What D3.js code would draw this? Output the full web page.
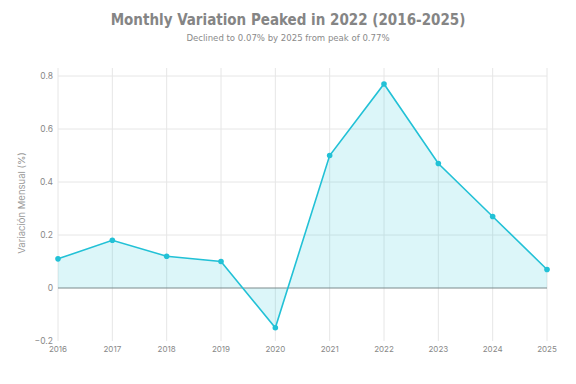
<!DOCTYPE html>
<html>
<head>
<meta charset="utf-8">
<script src="https://cdn.jsdelivr.net/npm/d3@7"></script>
<style>
  body { margin: 0; background: #fff; }
  svg { display: block; }
</style>
</head>
<body>
<svg width="576" height="384"></svg>
<script>
// chart data
var years = [2016, 2017, 2018, 2019, 2020, 2021, 2022, 2023, 2024, 2025];
var values = [0.11, 0.18, 0.12, 0.10, -0.15, 0.50, 0.77, 0.47, 0.27, 0.07];
var yTicks = [-0.2, 0, 0.2, 0.4, 0.6, 0.8];

var svg = d3.select("svg");
var mLeft = 58, mRight = 547, mTop = 68, mBottom = 341;

var x = d3.scaleLinear().domain([2016, 2025]).range([mLeft, mRight]);
var y = d3.scaleLinear().domain([-0.2, 0.8]).range([mBottom, 76]);

var data = years.map(function(d, i){ return {year: d, v: values[i]}; });

// title
svg.append("text")
  .attr("x", 288).attr("y", 25)
  .attr("text-anchor", "middle")
  .style("font-family", "DejaVu Sans Condensed")
  .style("font-weight", "bold")
  .style("font-size", "15px")
  .style("fill", "#858585")
  .text("Monthly Variation Peaked in 2022 (2016-2025)");

svg.append("text")
  .attr("x", 288).attr("y", 41)
  .attr("text-anchor", "middle")
  .style("font-family", "DejaVu Sans Condensed")
  .style("font-size", "9.5px")
  .style("fill", "#8a8a8a")
  .text("Declined to 0.07% by 2025 from peak of 0.77%");

// grid
svg.append("g").selectAll("line").data(years).join("line")
  .attr("x1", d => x(d)).attr("x2", d => x(d))
  .attr("y1", mTop).attr("y2", mBottom)
  .attr("stroke", "#e6e6e6").attr("stroke-width", 1);

svg.append("g").selectAll("line").data(yTicks.filter(d => d !== 0 && d !== -0.2)).join("line")
  .attr("x1", mLeft).attr("x2", mRight)
  .attr("y1", d => y(d)).attr("y2", d => y(d))
  .attr("stroke", "#e6e6e6").attr("stroke-width", 1);

// area + line
var area = d3.area()
  .x(d => x(d.year))
  .y0(y(0))
  .y1(d => y(d.v));

svg.append("path").datum(data)
  .attr("d", area)
  .attr("fill", "#26c6da")
  .attr("fill-opacity", 0.16);

// zero line
svg.append("line")
  .attr("x1", mLeft).attr("x2", mRight)
  .attr("y1", y(0)).attr("y2", y(0))
  .attr("stroke", "#7a8a8c").attr("stroke-width", 1);

var line = d3.line().x(d => x(d.year)).y(d => y(d.v));
svg.append("path").datum(data)
  .attr("d", line)
  .attr("fill", "none")
  .attr("stroke", "#22c1d6")
  .attr("stroke-width", 1.6);

svg.append("g").selectAll("circle").data(data).join("circle")
  .attr("cx", d => x(d.year)).attr("cy", d => y(d.v))
  .attr("r", 2.8)
  .attr("fill", "#22c1d6");

// tick labels
svg.append("g").selectAll("text").data(yTicks).join("text")
  .attr("x", mLeft - 5).attr("y", d => y(d))
  .attr("dy", "0.35em")
  .attr("text-anchor", "end")
  .style("font-family", "Inter")
  .style("font-size", "8.5px")
  .style("fill", "#888")
  .text(d => d === 0 ? "0" : d3.format(".1f")(d).replace("-", "\u2212"));

svg.append("g").selectAll("text").data(years).join("text")
  .attr("x", d => x(d)).attr("y", 352)
  .attr("text-anchor", "middle")
  .style("font-family", "Inter")
  .style("font-size", "8px")
  .style("fill", "#888")
  .text(d => d);

svg.append("text")
  .attr("transform", "translate(25,203) rotate(-90)")
  .attr("text-anchor", "middle")
  .style("font-family", "Inter")
  .style("font-size", "9.5px")
  .style("fill", "#999")
  .text("Variación Mensual (%)");
</script>
</body>
</html>
